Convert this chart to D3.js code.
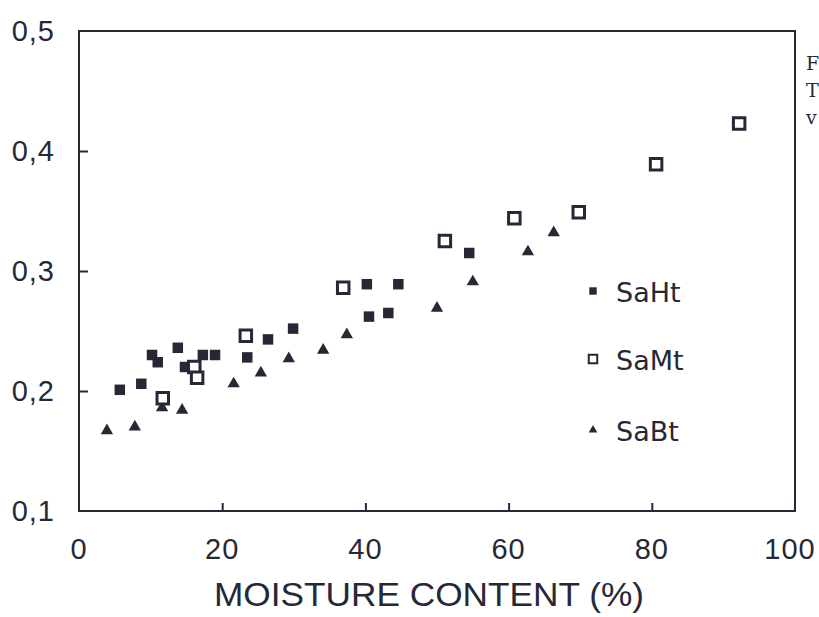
<!DOCTYPE html>
<html>
<head>
<meta charset="utf-8">
<script src="https://cdn.jsdelivr.net/npm/d3@7"></script>
<style>
  body { margin: 0; background: #fff; }
  svg { display: block; }
</style>
</head>
<body>
<div id="chart"></div>
<script>
// moisture content (%) vs. value, three soils
var saHtX = [5.7, 8.7, 10.2, 11.0, 13.8, 14.8, 17.3, 19.0, 23.5, 26.4, 29.9, 40.2, 44.6, 40.5, 43.2, 54.5];
var saHtY = [0.201, 0.206, 0.230, 0.224, 0.236, 0.220, 0.230, 0.230, 0.228, 0.243, 0.252, 0.289, 0.289, 0.262, 0.265, 0.315];

var saMtX = [11.7, 16.1, 16.5, 23.3, 36.9, 51.1, 60.8, 69.8, 80.6, 92.2];
var saMtY = [0.194, 0.220, 0.211, 0.246, 0.286, 0.325, 0.344, 0.349, 0.389, 0.423];

var saBtX = [3.9, 7.8, 11.6, 14.4, 21.6, 25.4, 29.3, 34.1, 37.4, 50.0, 55.0, 62.7, 66.3];
var saBtY = [0.167, 0.170, 0.186, 0.184, 0.206, 0.215, 0.227, 0.234, 0.247, 0.269, 0.291, 0.316, 0.332];

var seriesNames = ["SaHt", "SaMt", "SaBt"];
var xTicks = [0, 20, 40, 60, 80, 100];
var yTicks = [0.1, 0.2, 0.3, 0.4, 0.5];
var xTitle = "MOISTURE CONTENT (%)";

var width = 819, height = 617;
var ink = "#262836";

var x = d3.scaleLinear().domain([0, 100]).range([79, 795]);
var y = d3.scaleLinear().domain([0.1, 0.5]).range([511, 31]);

var svg = d3.select("#chart").append("svg")
  .attr("width", width)
  .attr("height", height);

// frame
svg.append("rect")
  .attr("x", x(0)).attr("y", y(0.5))
  .attr("width", x(100) - x(0)).attr("height", y(0.1) - y(0.5))
  .attr("fill", "none").attr("stroke", ink).attr("stroke-width", 2);

// inward ticks
var xAxis = d3.axisBottom(x).tickValues(xTicks.slice(1, -1)).tickSize(-8).tickFormat("");
svg.append("g").attr("transform", "translate(0," + y(0.1) + ")").call(xAxis)
  .call(function (g) { g.select(".domain").remove(); })
  .selectAll("line").attr("stroke", ink).attr("stroke-width", 2);

var yAxis = d3.axisLeft(y).tickValues(yTicks.slice(1, -1)).tickSize(-9).tickFormat("");
svg.append("g").attr("transform", "translate(" + x(0) + ",0)").call(yAxis)
  .call(function (g) { g.select(".domain").remove(); })
  .selectAll("line").attr("stroke", ink).attr("stroke-width", 2);

// tick labels
var fmt = function (d) { return d3.format(".1f")(d).replace(".", ","); };
svg.selectAll(".ylab").data(yTicks).enter().append("text")
  .attr("class", "ylab")
  .attr("x", 55).attr("y", function (d) { return y(d); })
  .attr("dy", "0.36em")
  .attr("text-anchor", "end")
  .style("font", "29px 'Liberation Sans', Arial, sans-serif")
  .style("letter-spacing", "1px")
  .attr("fill", ink)
  .text(fmt);

svg.selectAll(".xlab").data(xTicks).enter().append("text")
  .attr("class", "xlab")
  .attr("x", function (d) { return d === 100 ? x(d) - 5 : x(d); })
  .attr("y", 559)
  .attr("text-anchor", "middle")
  .style("font", "29px 'Liberation Sans', Arial, sans-serif")
  .style("letter-spacing", "1px")
  .attr("fill", ink)
  .text(function (d) { return d; });

svg.append("text")
  .attr("x", 429).attr("y", 606)
  .attr("text-anchor", "middle")
  .attr("textLength", 430)
  .attr("lengthAdjust", "spacingAndGlyphs")
  .style("font", "33px 'Liberation Sans', Arial, sans-serif")
  .attr("fill", ink)
  .text(xTitle);

// points
function pts(xs, ys) { return xs.map(function (v, i) { return [v, ys[i]]; }); }

svg.selectAll(".saBt").data(pts(saBtX, saBtY)).enter().append("path")
  .attr("class", "saBt")
  .attr("d", d3.symbol(d3.symbolTriangle, 66))
  .attr("transform", function (d) { return "translate(" + x(d[0]) + "," + y(d[1]) + ")"; })
  .attr("fill", ink);

svg.selectAll(".saHt").data(pts(saHtX, saHtY)).enter().append("path")
  .attr("class", "saHt")
  .attr("d", d3.symbol(d3.symbolSquare, 110))
  .attr("transform", function (d) { return "translate(" + x(d[0]) + "," + y(d[1]) + ")"; })
  .attr("fill", ink);

svg.selectAll(".saMt").data(pts(saMtX, saMtY)).enter().append("path")
  .attr("class", "saMt")
  .attr("d", d3.symbol(d3.symbolSquare, 132))
  .attr("transform", function (d) { return "translate(" + x(d[0]) + "," + y(d[1]) + ")"; })
  .attr("fill", "#fff")
  .attr("stroke", ink)
  .attr("stroke-width", 3);

// legend
var legendY = [291, 359, 430];
var legendSym = [
  { type: d3.symbolSquare, size: 55, fill: ink, stroke: "none" },
  { type: d3.symbolSquare, size: 72, fill: "#fff", stroke: ink },
  { type: d3.symbolTriangle, size: 32, fill: ink, stroke: "none" }
];
var leg = svg.selectAll(".leg").data(seriesNames).enter().append("g")
  .attr("class", "leg")
  .attr("transform", function (d, i) { return "translate(0," + legendY[i] + ")"; });
leg.append("path")
  .attr("transform", "translate(593,0)")
  .attr("d", function (d, i) { return d3.symbol(legendSym[i].type, legendSym[i].size)(); })
  .attr("fill", function (d, i) { return legendSym[i].fill; })
  .attr("stroke", function (d, i) { return legendSym[i].stroke; })
  .attr("stroke-width", 2);
leg.append("text")
  .attr("x", 616).attr("y", 11)
  .style("font", "27px 'DejaVu Sans', sans-serif")
  .attr("fill", ink)
  .text(function (d) { return d; });

// fragments of the neighbouring column of the scanned page
svg.selectAll(".edge").data(["F", "T", "v"]).enter().append("text")
  .attr("class", "edge")
  .attr("x", 806).attr("y", function (d, i) { return 70 + i * 27; })
  .style("font", "19px 'DejaVu Serif', serif")
  .attr("fill", ink)
  .text(function (d) { return d; });
</script>
</body>
</html>
